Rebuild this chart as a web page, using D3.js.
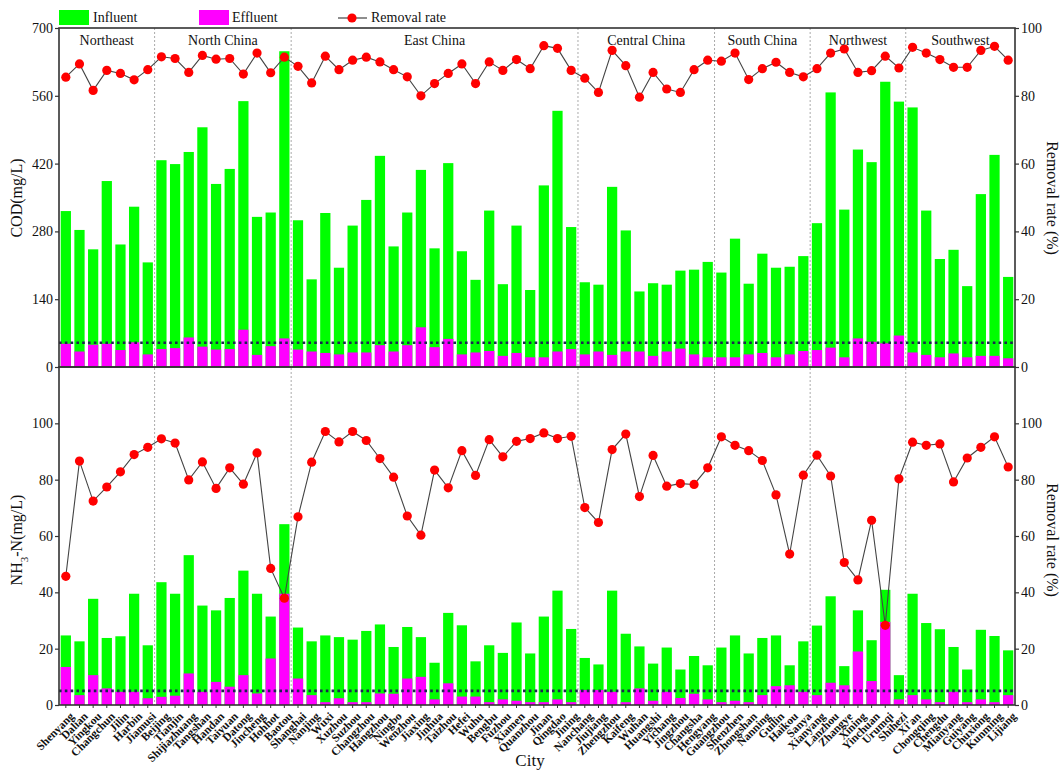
<!DOCTYPE html>
<html>
<head>
<meta charset="utf-8">
<script src="https://cdn.jsdelivr.net/npm/d3@7/dist/d3.min.js"></script>
<style>
  body { margin: 0; background: #fff; }
  text { font-family: "Liberation Serif", "DejaVu Serif", serif; fill: #111; }
</style>
</head>
<body>
<script>
let cities = ["Shenyang", "Dalian", "Yingkou", "Changchun", "Jilin", "Harbin", "Jiamusi",
    "Beijing", "Tianjin", "Shijiazhuang", "Tangshan", "Handan", "Taiyuan", "Datong", "Jincheng", "Hohhot", "Baotou",
    "Shanghai", "Nanjing", "Wuxi", "Xuzhou", "Suzhou", "Changzhou", "Hangzhou", "Ningbo", "Wenzhou", "Jiaxing", "Jinhua",
    "Taizhou", "Hefei", "Wuhu", "Bengbu", "Fuzhou", "Xiamen", "Quanzhou", "Jinan", "Qingdao", "Jining",
    "Nanchang", "Jiujiang", "Zhengzhou", "Kaifeng", "Wuhan", "Huangshi", "Yichang", "Jingzhou", "Changsha", "Hengyang",
    "Guangzhou", "Shenzhen", "Zhongshan", "Nanning", "Guilin", "Haikou", "Sanya",
    "Xianyang", "Lanzhou", "Zhangye", "Xining", "Yinchuan", "Urumqi", "Shihezi",
    "Xi'an", "Chongqing", "Chengdu", "Mianyang", "Guiyang", "Chuxiong", "Kunming", "Lijiang"];

let regionNames = ["Northeast", "North China", "East China", "Central China", "South China", "Northwest", "Southwest"];
let regionSizes = [7, 10, 21, 10, 7, 7, 8];

let codInfluent = [322, 283, 243, 384, 253, 331, 216,
    427, 419, 444, 495, 378, 409, 549, 310, 319, 652,
    303, 181, 318, 205, 292, 345, 436, 249, 319, 407, 245, 421, 239, 180, 323, 171, 292, 159, 375, 529, 289,
    175, 170, 372, 282, 156, 173, 170, 199, 201, 217,
    195, 265, 172, 234, 205, 207, 229,
    297, 567, 325, 449, 423, 589, 548,
    536, 323, 223, 242, 167, 357, 438, 186];
let codEffluent = [48, 32, 46, 48, 35, 51, 26,
    37, 39, 61, 42, 36, 37, 77, 25, 43, 59,
    36, 32, 29, 26, 30, 30, 45, 32, 45, 82, 41, 58, 26, 30, 33, 23, 29, 20, 20, 32, 37,
    26, 32, 25, 32, 32, 23, 32, 38, 26, 20,
    20, 20, 26, 29, 20, 26, 33,
    35, 40, 20, 59, 52, 49, 65,
    30, 25, 20, 28, 20, 23, 23, 18];
let codRemoval = [85.5, 89.4, 81.6, 87.5, 86.6, 84.7, 87.7,
    91.5, 91.0, 86.9, 91.9, 90.8, 91.0, 86.4, 92.6, 86.8, 91.4,
    88.7, 83.8, 91.7, 87.7, 90.5, 91.4, 90.0, 87.7, 85.6, 80.0, 83.6, 86.6, 89.4, 83.6, 90.0, 87.5, 90.7, 88.0, 94.8, 94.0, 87.5,
    85.2, 81.0, 93.4, 88.9, 79.6, 86.9, 82.0, 81.0, 87.7, 90.5,
    90.2, 92.6, 84.8, 88.0, 89.9, 86.9, 85.6,
    88.0, 92.6, 93.8, 86.9, 87.4, 91.7, 88.2,
    94.3, 92.6, 90.7, 88.4, 88.4, 93.4, 94.6, 90.5];

let nhInfluent = [24.7, 22.6, 37.7, 23.8, 24.4, 39.5, 21.2,
    43.6, 39.5, 53.2, 35.3, 33.6, 38.0, 47.7, 39.5, 31.4, 64.2,
    27.5, 22.6, 24.7, 24.1, 23.2, 26.3, 28.6, 20.6, 27.7, 24.1, 15.0, 32.7, 28.3, 15.5, 21.2, 18.5, 29.3, 18.3, 31.4, 40.6, 27.0,
    16.7, 14.4, 40.6, 25.3, 20.8, 14.7, 20.4, 12.6, 17.4, 14.1,
    20.4, 24.7, 18.3, 23.8, 24.7, 14.1, 22.6,
    28.2, 38.6, 13.8, 33.6, 23.0, 40.9, 10.6,
    39.5, 29.1, 26.9, 20.6, 12.6, 26.7, 24.5, 19.4];
let nhEffluent = [13.5, 3.5, 10.6, 5.9, 4.7, 4.7, 2.4,
    2.9, 3.3, 11.2, 4.7, 8.2, 6.5, 10.6, 4.1, 16.5, 39.5,
    9.4, 3.5, 1.0, 2.4, 1.0, 1.0, 4.1, 4.0, 9.4, 10.0, 2.0, 7.7, 3.0, 3.0, 1.0, 2.0, 1.5, 1.0, 1.0, 2.0, 1.0,
    5.3, 5.3, 4.7, 1.0, 5.9, 1.5, 4.7, 2.5, 4.0, 2.0,
    1.0, 1.5, 1.0, 3.5, 6.7, 7.0, 4.7,
    3.5, 7.9, 7.0, 19.0, 8.5, 29.5, 2.0,
    3.5, 2.0, 1.0, 4.7, 1.0, 2.0, 1.0, 3.5];
let nhRemoval = [45.7, 86.6, 72.4, 77.4, 82.8, 88.9, 91.5,
    94.5, 93.0, 79.9, 86.3, 76.9, 84.2, 78.4, 89.5, 48.5, 37.9,
    66.8, 86.2, 97.1, 93.4, 97.1, 93.9, 87.5, 80.9, 67.1, 60.3, 83.4, 77.1, 90.3, 81.5, 94.2, 88.1, 93.6, 94.6, 96.6, 94.6, 95.4,
    70.1, 64.8, 90.7, 96.2, 74.0, 88.6, 77.7, 78.6, 78.3, 84.2,
    95.2, 92.2, 90.3, 86.8, 74.6, 53.6, 81.6,
    88.7, 81.3, 50.6, 44.4, 65.6, 28.3, 80.3,
    93.3, 92.2, 92.7, 79.2, 87.7, 91.5, 95.2, 84.5];

let codTicks = [0, 140, 280, 420, 560, 700];
let rateTicks = [0, 20, 40, 60, 80, 100];
let nhTicks = [0, 20, 40, 60, 80, 100];
let codLimit = 50;
let nhLimit = 5;

const GREEN = "#00ff00", MAGENTA = "#ff00ff", RED = "#ff0000", AXIS = "#333";
const left = 59, right = 1015, top1 = 28, mid = 367, bot = 705;

let svg = d3.select("body").append("svg").attr("width", 1060).attr("height", 772);

let x = d3.scaleBand(cities, [left, right]).paddingInner(0.25).paddingOuter(0.125);
let xc = d => x(d) + x.bandwidth() / 2;

let yCod = d3.scaleLinear([0, 700], [mid, top1]);
let yRateTop = d3.scaleLinear([0, 100], [mid, top1]);
let yNh = d3.scaleLinear([0, 120], [bot, mid]);
let yRateBot = d3.scaleLinear([0, 120], [bot, mid]);

function drawPanel(inf, eff, rate, yConc, yRate, limit, cls) {
    let g = svg.append("g").attr("class", cls);
    g.selectAll("rect.inf").data(cities).enter().append("rect")
        .attr("class", "inf")
        .attr("x", d => x(d))
        .attr("width", x.bandwidth())
        .attr("y", (d, i) => yConc(inf[i]))
        .attr("height", (d, i) => yConc(0) - yConc(inf[i]))
        .attr("fill", GREEN);
    g.selectAll("rect.eff").data(cities).enter().append("rect")
        .attr("class", "eff")
        .attr("x", d => x(d))
        .attr("width", x.bandwidth())
        .attr("y", (d, i) => yConc(eff[i]))
        .attr("height", (d, i) => yConc(0) - yConc(eff[i]))
        .attr("fill", MAGENTA);
    g.append("line")
        .attr("x1", left).attr("x2", right)
        .attr("y1", yConc(limit)).attr("y2", yConc(limit))
        .attr("stroke", "#1c2550").attr("stroke-width", 2.6)
        .attr("stroke-dasharray", "2.6,3.2");
    let line = d3.line().x((d, i) => xc(cities[i])).y(d => yRate(d));
    g.append("path").datum(rate)
        .attr("d", line)
        .attr("fill", "none")
        .attr("stroke", "#444")
        .attr("stroke-width", 1.1);
    g.selectAll("circle").data(rate).enter().append("circle")
        .attr("cx", (d, i) => xc(cities[i]))
        .attr("cy", d => yRate(d))
        .attr("r", 4.6)
        .attr("fill", RED);
}

// region dividers
let starts = [];
let acc = 0;
regionSizes.forEach(n => { starts.push(acc); acc += n; });
let divX = i => x(cities[i]) - x.step() * x.paddingInner() / 2;
svg.selectAll("line.div").data(starts.slice(1)).enter().append("line")
    .attr("class", "div")
    .attr("x1", d => divX(d)).attr("x2", d => divX(d))
    .attr("y1", top1).attr("y2", bot)
    .attr("stroke", "#aaa").attr("stroke-width", 1)
    .attr("stroke-dasharray", "2,2");

drawPanel(codInfluent, codEffluent, codRemoval, yCod, yRateTop, codLimit, "top");
drawPanel(nhInfluent, nhEffluent, nhRemoval, yNh, yRateBot, nhLimit, "bottom");

// region labels
svg.selectAll("text.region").data(regionNames).enter().append("text")
    .attr("class", "region")
    .attr("x", (d, i) => {
        let a = i === 0 ? left : divX(starts[i]);
        let b = i === regionNames.length - 1 ? right : divX(starts[i + 1]);
        return (a + b) / 2;
    })
    .attr("y", 45)
    .attr("text-anchor", "middle")
    .style("font-size", "14px")
    .text(d => d);

// frames
[[top1, mid], [mid, bot]].forEach(([a, b]) => {
    svg.append("rect").attr("x", left).attr("y", a).attr("width", right - left).attr("height", b - a)
        .attr("fill", "none").attr("stroke", AXIS).attr("stroke-width", 1.6);
});

function styleAxis(g) {
    g.select(".domain").remove();
    g.selectAll(".tick line").attr("stroke", AXIS).attr("stroke-width", 1.2);
    g.selectAll(".tick text").style("font-family", "Liberation Serif, serif").style("font-size", "14px").attr("fill", "#111");
}

svg.append("g").attr("transform", `translate(${left},0)`)
    .call(d3.axisLeft(yCod).tickValues(codTicks).tickSize(4).tickPadding(2)).call(styleAxis);
svg.append("g").attr("transform", `translate(${left},0)`)
    .call(d3.axisLeft(yNh).tickValues(nhTicks).tickSize(4).tickPadding(2)).call(styleAxis);
svg.append("g").attr("transform", `translate(${right},0)`)
    .call(d3.axisRight(yRateTop).tickValues(rateTicks).tickSize(4).tickPadding(2)).call(styleAxis);
svg.append("g").attr("transform", `translate(${right},0)`)
    .call(d3.axisRight(yRateBot).tickValues(rateTicks).tickSize(4).tickPadding(2)).call(styleAxis);

// x axis city labels
let xa = svg.append("g").attr("transform", `translate(0,${bot})`)
    .call(d3.axisBottom(x).tickSize(3).tickPadding(4));
xa.select(".domain").remove();
xa.selectAll(".tick line").attr("stroke", AXIS);
xa.selectAll(".tick text")
    .style("font-family", "Liberation Serif, serif")
    .style("font-size", "11.5px")
    .style("font-weight", "bold")
    .attr("fill", "#222")
    .attr("text-anchor", "end")
    .attr("dy", "0.5em")
    .attr("transform", "translate(0,3) rotate(-45)");

// axis titles
svg.append("text").attr("transform", "translate(22,198) rotate(-90)")
    .attr("text-anchor", "middle").style("font-size", "16px").text("COD(mg/L)");
let nh = svg.append("text").attr("transform", "translate(22,540) rotate(-90)")
    .attr("text-anchor", "middle").style("font-size", "16px");
nh.append("tspan").text("NH");
nh.append("tspan").attr("baseline-shift", "sub").style("font-size", "11px").text("3");
nh.append("tspan").text("-N(mg/L)");
svg.append("text").attr("transform", "translate(1047,198) rotate(90)")
    .attr("text-anchor", "middle").style("font-size", "16px").text("Removal rate (%)");
svg.append("text").attr("transform", "translate(1047,540) rotate(90)")
    .attr("text-anchor", "middle").style("font-size", "16px").text("Removal rate (%)");
svg.append("text").attr("x", 530).attr("y", 766)
    .attr("text-anchor", "middle").style("font-size", "17px").text("City");

// legend
let lg = svg.append("g");
lg.append("rect").attr("x", 59).attr("y", 10).attr("width", 30).attr("height", 15).attr("fill", GREEN);
lg.append("text").attr("x", 93).attr("y", 22).style("font-size", "14px").text("Influent");
lg.append("rect").attr("x", 199).attr("y", 10).attr("width", 30).attr("height", 15).attr("fill", MAGENTA);
lg.append("text").attr("x", 232).attr("y", 22).style("font-size", "14px").text("Effluent");
lg.append("line").attr("x1", 338).attr("x2", 367).attr("y1", 18).attr("y2", 18).attr("stroke", "#444").attr("stroke-width", 1.2);
lg.append("circle").attr("cx", 352).attr("cy", 18).attr("r", 4.6).attr("fill", RED);
lg.append("text").attr("x", 371).attr("y", 22).style("font-size", "14px").text("Removal rate");
</script>
</body>
</html>
